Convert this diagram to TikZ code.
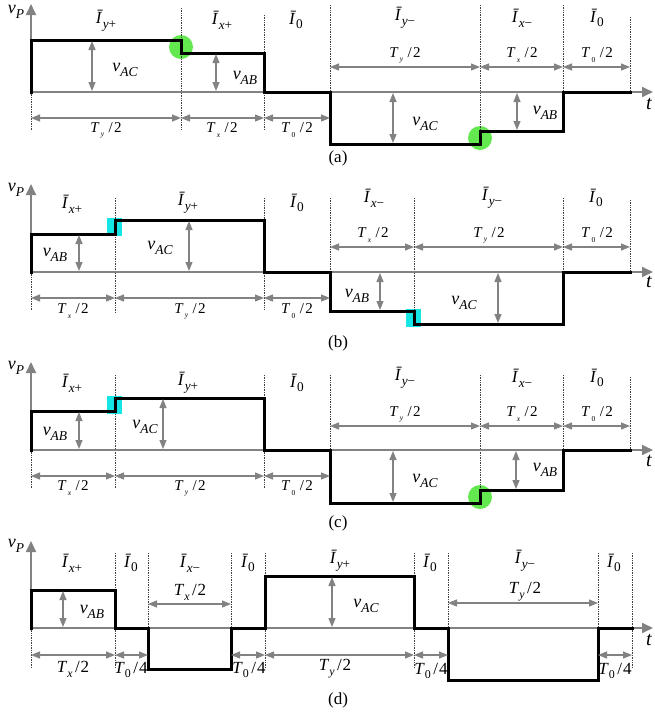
\documentclass[tikz,border=0pt]{standalone}
\usepackage{fontspec}
\usepackage{graphicx}
\setmainfont{Liberation Serif}
\usetikzlibrary{arrows.meta}
\definecolor{axgray}{RGB}{130,130,130}
\definecolor{hlgreen}{RGB}{100,232,80}
\definecolor{hlcyan}{RGB}{20,230,230}
\newcommand{\sbs}[2]{\raisebox{-0.28em}{\scalebox{#1}{#2}}}
\newcommand{\Ib}[1]{\textit{\={I}}\sbs{0.78}{#1}}
\newcommand{\Tl}[3]{\textit{T}\hspace{0.08em}\sbs{#3}{#1}\hspace{0.3em}/\hspace{0.08em}#2}
\newcommand{\Td}[3]{\textit{T}\sbs{#3}{#1}\hspace{0.15em}/\hspace{0.05em}#2}
\newcommand{\vl}[1]{\textit{v}\sbs{0.75}{\textit{#1}}}
\begin{document}
\begin{tikzpicture}[x=1pt,y=-1pt,
  axis/.style={draw=axgray,line width=1.8pt,-{Triangle[length=11pt,width=10pt]}},
  wave/.style={draw=black,line width=3pt,line join=miter,line cap=rect},
  dimarr/.style={draw=axgray,line width=1.2pt,{Triangle[length=9pt,width=7pt]}-{Triangle[length=9pt,width=7pt]}},
  guide/.style={draw=black!75,line width=0.7pt,densely dotted},
  curlab/.style={font=\fontsize{17}{19}\selectfont,inner sep=0pt},
  vlab/.style={font=\fontsize{18}{20}\selectfont,inner sep=0pt},
  tlab/.style={font=\fontsize{15}{17}\selectfont,inner sep=0pt},
  tlabd/.style={font=\fontsize{17}{19}\selectfont,inner sep=0pt},
  caplab/.style={font=\fontsize{17}{19}\selectfont,inner sep=0pt},
  axlab/.style={font=\fontsize{20}{22}\selectfont\itshape,inner sep=0pt}]
\useasboundingbox (0,0) rectangle (655,716);
\fill[white] (0,0) rectangle (655,716);

% ================= (a) =================
\fill[hlgreen] (181,47) circle (12);
\fill[hlgreen] (480,138) circle (12);
\foreach \x/\a/\b in {31/92/130,181/8/130,264/15/130,330/5/92,480/5/144,563/5/92,630/17/92}
  \draw[guide] (\x,\a) -- (\x,\b);
\draw[axis] (31,92) -- (31,4);
\draw[axis] (31,92) -- (653,92);
\node[axlab] (ta) at (649,104) {t};
\node[vlab] (vpa) at (16,12) {\vl{P}};
\draw[wave] (31,92) -- (31,40) -- (181,40) -- (181,53) -- (264,53) -- (264,92) -- (330,92) -- (330,144) -- (480,144) -- (480,131) -- (563,131) -- (563,92) -- (630,92);
\draw[dimarr] (31,118) -- (181,118);
\draw[dimarr] (181,118) -- (264,118);
\draw[dimarr] (264,118) -- (330,118);
\draw[dimarr] (330,67) -- (480,67);
\draw[dimarr] (480,67) -- (563,67);
\draw[dimarr] (563,67) -- (630,67);
\node[tlab] (a1) at (106,130) {\Tl{\textit{y}}{2}{0.5}};
\node[tlab] (a2) at (222,130) {\Tl{\textit{x}}{2}{0.5}};
\node[tlab] (a3) at (297,130) {\Tl{0}{2}{0.5}};
\node[tlab] (a4) at (405,55) {\Tl{\textit{y}}{2}{0.5}};
\node[tlab] (a5) at (522,55) {\Tl{\textit{x}}{2}{0.5}};
\node[tlab] (a6) at (597,55) {\Tl{0}{2}{0.5}};
\node[curlab] (ia1) at (106,21) {\Ib{\textit{y}+}};
\node[curlab] (ia2) at (222,20) {\Ib{\textit{x}+}};
\node[curlab] (ia3) at (296,20) {\Ib{0}};
\node[curlab] (ia4) at (405,18) {\Ib{\textit{y}−}};
\node[curlab] (ia5) at (522,18) {\Ib{\textit{x}−}};
\node[curlab] (ia6) at (597,18) {\Ib{0}};
\draw[dimarr] (92,41) -- (92,91);
\draw[dimarr] (216,54) -- (216,91);
\draw[dimarr] (393,93) -- (393,143);
\draw[dimarr] (517,93) -- (517,130);
\node[vlab] (va1) at (125,70) {\vl{AC}};
\node[vlab] (va2) at (245,78) {\vl{AB}};
\node[vlab] (va3) at (425,124) {\vl{AC}};
\node[vlab] (va4) at (545,113) {\vl{AB}};
\node[caplab] (capa) at (338,158) {(a)};

% ================= (b) =================
\fill[hlcyan] (107,218) rectangle (122,236);
\fill[hlcyan] (406,309) rectangle (421,327);
\foreach \x/\a/\b in {31/272/310,115/198/312,264/198/310,330/198/272,414/198/324,563/198/272,630/200/272}
  \draw[guide] (\x,\a) -- (\x,\b);
\draw[axis] (31,272) -- (31,184);
\draw[axis] (31,272) -- (653,272);
\node[axlab] (tb) at (649,282) {t};
\node[vlab] (vpb) at (16,190) {\vl{P}};
\draw[wave] (31,272) -- (31,234) -- (115,234) -- (115,220) -- (264,220) -- (264,272) -- (330,272) -- (330,311) -- (414,311) -- (414,324) -- (563,324) -- (563,272) -- (630,272);
\draw[dimarr] (31,298) -- (115,298);
\draw[dimarr] (115,298) -- (264,298);
\draw[dimarr] (264,298) -- (330,298);
\draw[dimarr] (330,247) -- (414,247);
\draw[dimarr] (414,247) -- (563,247);
\draw[dimarr] (563,247) -- (630,247);
\node[tlab] (b1) at (73,311) {\Tl{\textit{x}}{2}{0.5}};
\node[tlab] (b2) at (190,311) {\Tl{\textit{y}}{2}{0.5}};
\node[tlab] (b3) at (297,311) {\Tl{0}{2}{0.5}};
\node[tlab] (b4) at (373,235) {\Tl{\textit{x}}{2}{0.5}};
\node[tlab] (b5) at (489,235) {\Tl{\textit{y}}{2}{0.5}};
\node[tlab] (b6) at (597,235) {\Tl{0}{2}{0.5}};
\node[curlab] (ib1) at (72,204) {\Ib{\textit{x}+}};
\node[curlab] (ib2) at (188,203) {\Ib{\textit{y}+}};
\node[curlab] (ib3) at (297,203) {\Ib{0}};
\node[curlab] (ib4) at (374,198) {\Ib{\textit{x}−}};
\node[curlab] (ib5) at (492,198) {\Ib{\textit{y}−}};
\node[curlab] (ib6) at (596,198) {\Ib{0}};
\draw[dimarr] (79,235) -- (79,271);
\draw[dimarr] (189,221) -- (189,271);
\draw[dimarr] (380,273) -- (380,310);
\draw[dimarr] (498,273) -- (498,323);
\node[vlab] (vb1) at (55,255) {\vl{AB}};
\node[vlab] (vb2) at (160,248) {\vl{AC}};
\node[vlab] (vb3) at (357,296) {\vl{AB}};
\node[vlab] (vb4) at (464,303) {\vl{AC}};
\node[caplab] (capb) at (338,343) {(b)};

% ================= (c) =================
\fill[hlcyan] (107,396) rectangle (122,414);
\fill[hlgreen] (480,497) circle (12);
\foreach \x/\a/\b in {31/450/488,115/375/488,264/375/488,330/375/450,480/375/503,563/375/450,630/377/450}
  \draw[guide] (\x,\a) -- (\x,\b);
\draw[axis] (31,450) -- (31,362);
\draw[axis] (31,450) -- (653,450);
\node[axlab] (tc) at (649,461) {t};
\node[vlab] (vpc) at (16,368) {\vl{P}};
\draw[wave] (31,450) -- (31,411) -- (115,411) -- (115,398) -- (264,398) -- (264,450) -- (330,450) -- (330,503) -- (480,503) -- (480,490) -- (563,490) -- (563,450) -- (630,450);
\draw[dimarr] (31,476) -- (115,476);
\draw[dimarr] (115,476) -- (264,476);
\draw[dimarr] (264,476) -- (330,476);
\draw[dimarr] (330,426) -- (480,426);
\draw[dimarr] (480,426) -- (563,426);
\draw[dimarr] (563,426) -- (630,426);
\node[tlab] (c1) at (73,488) {\Tl{\textit{x}}{2}{0.5}};
\node[tlab] (c2) at (190,488) {\Tl{\textit{y}}{2}{0.5}};
\node[tlab] (c3) at (297,488) {\Tl{0}{2}{0.5}};
\node[tlab] (c4) at (405,414) {\Tl{\textit{y}}{2}{0.5}};
\node[tlab] (c5) at (522,414) {\Tl{\textit{x}}{2}{0.5}};
\node[tlab] (c6) at (597,414) {\Tl{0}{2}{0.5}};
\node[curlab] (ic1) at (72,383) {\Ib{\textit{x}+}};
\node[curlab] (ic2) at (188,383) {\Ib{\textit{y}+}};
\node[curlab] (ic3) at (297,383) {\Ib{0}};
\node[curlab] (ic4) at (405,378) {\Ib{\textit{y}−}};
\node[curlab] (ic5) at (522,378) {\Ib{\textit{x}−}};
\node[curlab] (ic6) at (597,378) {\Ib{0}};
\draw[dimarr] (79,412) -- (79,449);
\draw[dimarr] (163,399) -- (163,449);
\draw[dimarr] (393,451) -- (393,502);
\draw[dimarr] (516,451) -- (516,489);
\node[vlab] (vc1) at (55,434) {\vl{AB}};
\node[vlab] (vc2) at (145,427) {\vl{AC}};
\node[vlab] (vc3) at (425,481) {\vl{AC}};
\node[vlab] (vc4) at (545,470) {\vl{AB}};
\node[caplab] (capc) at (338,523) {(c)};

% ================= (d) =================
\foreach \x/\a/\b in {31/628/668,115/553/668,148/553/668,231/553/668,265/553/668,414/553/668,448/553/668,598/553/668,632/553/668}
  \draw[guide] (\x,\a) -- (\x,\b);
\draw[axis] (31,628) -- (31,541);
\draw[axis] (31,628) -- (653,628);
\node[axlab] (td) at (649,640) {t};
\node[vlab] (vpd) at (16,546) {\vl{P}};
\draw[wave] (31,628) -- (31,590) -- (115,590) -- (115,628) -- (148,628) -- (148,669) -- (231,669) -- (231,628) -- (265,628) -- (265,576) -- (414,576) -- (414,628) -- (448,628) -- (448,680) -- (598,680) -- (598,628) -- (632,628);
\draw[dimarr] (31,655) -- (115,655);
\draw[dimarr] (115,655) -- (148,655);
\draw[dimarr] (148,604) -- (231,604);
\draw[dimarr] (231,655) -- (265,655);
\draw[dimarr] (265,655) -- (414,655);
\draw[dimarr] (414,655) -- (448,655);
\draw[dimarr] (448,603) -- (598,603);
\draw[dimarr] (598,655) -- (632,655);
\node[tlabd] (d1) at (73,669) {\Td{\textit{x}}{2}{0.7}};
\node[tlabd] (d2) at (131,670) {\Td{0}{4}{0.7}};
\node[tlabd] (d3) at (190,592) {\Td{\textit{x}}{2}{0.7}};
\node[tlabd] (d4) at (249,670) {\Td{0}{4}{0.7}};
\node[tlabd] (d5) at (335,669) {\Td{\textit{y}}{2}{0.7}};
\node[tlabd] (d6) at (431,671) {\Td{0}{4}{0.7}};
\node[tlabd] (d7) at (525,592) {\Td{\textit{y}}{2}{0.7}};
\node[tlabd] (d8) at (615,671) {\Td{0}{4}{0.7}};
\node[curlab] (id1) at (72,563) {\Ib{\textit{x}+}};
\node[curlab] (id2) at (131,563) {\Ib{0}};
\node[curlab] (id3) at (190,563) {\Ib{\textit{x}−}};
\node[curlab] (id4) at (248,563) {\Ib{0}};
\node[curlab] (id5) at (340,561) {\Ib{\textit{y}+}};
\node[curlab] (id6) at (430,563) {\Ib{0}};
\node[curlab] (id7) at (525,561) {\Ib{\textit{y}−}};
\node[curlab] (id8) at (614,563) {\Ib{0}};
\draw[dimarr] (63,591) -- (63,627);
\draw[dimarr] (332,577) -- (332,627);
\node[vlab] (vd1) at (92,612) {\vl{AB}};
\node[vlab] (vd2) at (366,606) {\vl{AC}};
\node[caplab] (capd) at (338,700) {(d)};
\end{tikzpicture}
\end{document}
